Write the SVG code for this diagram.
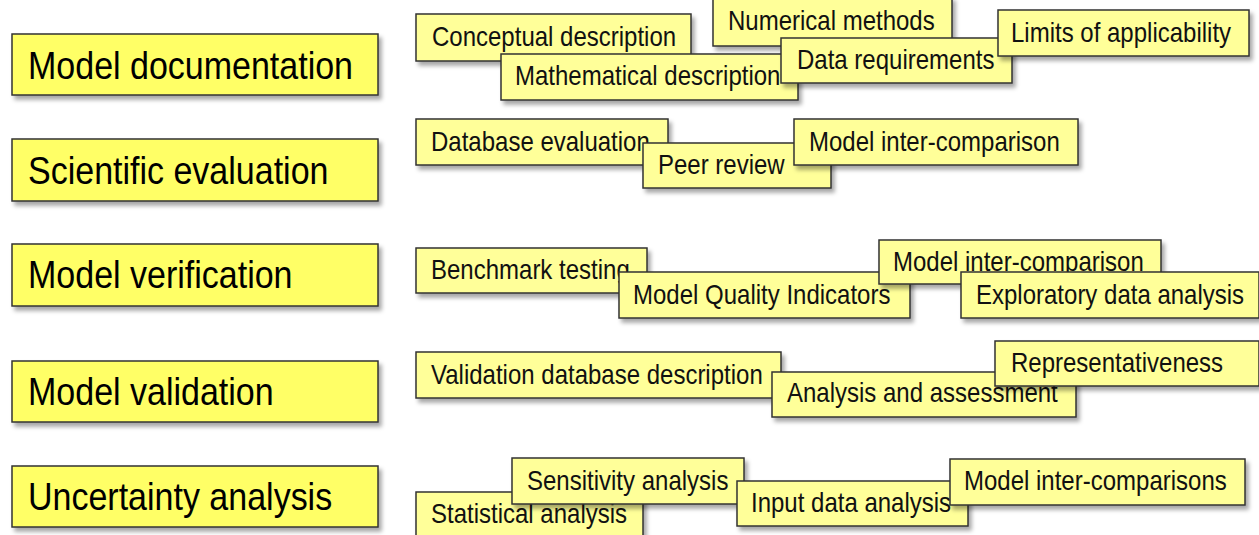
<svg xmlns="http://www.w3.org/2000/svg" width="1259" height="535" viewBox="0 0 1259 535">
<style>
.big{fill:#FFFF66;stroke:#333;stroke-width:1.5;filter:url(#sh)}
.sm{fill:#FFFF99;stroke:#333;stroke-width:1.5;filter:url(#sh)}
.bt{font-family:"Liberation Sans",Arial,sans-serif;font-size:34px;fill:#000}
.st{font-family:"Liberation Sans",Arial,sans-serif;font-size:24px;fill:#111}
</style>
<defs>
<filter id="sh" x="-10%" y="-20%" width="125%" height="150%">
<feDropShadow dx="3" dy="4" stdDeviation="2" flood-color="#000" flood-opacity="0.35"/>
</filter>
</defs>
<rect width="1259" height="535" fill="#fff"/>
<g id="model-documentation"><rect class="big" x="12" y="34" width="366" height="61"/><text class="bt" transform="translate(28,79) scale(1,1.16)">Model documentation</text></g>
<g id="scientific-evaluation"><rect class="big" x="12" y="139" width="366" height="62"/><text class="bt" transform="translate(28,184) scale(1,1.16)">Scientific evaluation</text></g>
<g id="model-verification"><rect class="big" x="12" y="244" width="366" height="62"/><text class="bt" transform="translate(28,288) scale(1,1.16)">Model verification</text></g>
<g id="model-validation"><rect class="big" x="12" y="361" width="366" height="61"/><text class="bt" transform="translate(28,405) scale(1,1.16)">Model validation</text></g>
<g id="uncertainty-analysis"><rect class="big" x="12" y="466" width="366" height="61"/><text class="bt" transform="translate(28,510) scale(1,1.16)">Uncertainty analysis</text></g>

<g id="conceptual-description"><rect class="sm" x="416" y="14" width="275" height="47"/><text class="st" transform="translate(432,46) scale(1,1.15)">Conceptual description</text></g>
<g id="mathematical-description"><rect class="sm" x="501" y="54" width="297" height="46"/><text class="st" transform="translate(515,85) scale(1,1.15)">Mathematical description</text></g>
<g id="numerical-methods"><rect class="sm" x="713" y="-3" width="239" height="49"/><text class="st" transform="translate(728,30) scale(1,1.15)">Numerical methods</text></g>
<g id="data-requirements"><rect class="sm" x="781" y="38" width="231" height="45"/><text class="st" transform="translate(797,69) scale(1,1.15)">Data requirements</text></g>
<g id="limits-of-applicability"><rect class="sm" x="998" y="10" width="251" height="46"/><text class="st" transform="translate(1011,42) scale(1,1.15)">Limits of applicability</text></g>

<g id="database-evaluation"><rect class="sm" x="416" y="119" width="252" height="46"/><text class="st" transform="translate(431,151) scale(1,1.15)">Database evaluation</text></g>
<g id="peer-review"><rect class="sm" x="643" y="143" width="188" height="45"/><text class="st" transform="translate(658,174) scale(1,1.15)">Peer review</text></g>
<g id="model-inter-comparison-1"><rect class="sm" x="794" y="119" width="284" height="46"/><text class="st" transform="translate(809,151) scale(1,1.15)">Model inter-comparison</text></g>

<g id="benchmark-testing"><rect class="sm" x="416" y="248" width="231" height="45"/><text class="st" transform="translate(431,279) scale(1,1.15)">Benchmark testing</text></g>
<g id="model-quality-indicators"><rect class="sm" x="619" y="272" width="291" height="46"/><text class="st" transform="translate(633,304) scale(1,1.15)">Model Quality Indicators</text></g>
<g id="model-inter-comparison-2"><rect class="sm" x="879" y="240" width="282" height="44"/><text class="st" transform="translate(893,271) scale(1,1.15)">Model inter-comparison</text></g>
<g id="exploratory-data-analysis"><rect class="sm" x="961" y="272" width="298" height="46"/><text class="st" transform="translate(976,304) scale(1,1.15)">Exploratory data analysis</text></g>

<g id="validation-database-description"><rect class="sm" x="416" y="352" width="365" height="46"/><text class="st" transform="translate(431,384) scale(1,1.15)">Validation database description</text></g>
<g id="analysis-and-assessment"><rect class="sm" x="772" y="372" width="304" height="45"/><text class="st" transform="translate(787,402) scale(1,1.15)">Analysis and assessment</text></g>
<g id="representativeness"><rect class="sm" x="995" y="341" width="264" height="45"/><text class="st" transform="translate(1011,372) scale(1,1.15)">Representativeness</text></g>

<g id="statistical-analysis"><rect class="sm" x="416" y="492" width="227" height="50"/><text class="st" transform="translate(431,523) scale(1,1.15)">Statistical analysis</text></g>
<g id="sensitivity-analysis"><rect class="sm" x="512" y="458" width="232" height="46"/><text class="st" transform="translate(527,490) scale(1,1.15)">Sensitivity analysis</text></g>
<g id="input-data-analysis"><rect class="sm" x="737" y="481" width="231" height="45"/><text class="st" transform="translate(751,512) scale(1,1.15)">Input data analysis</text></g>
<g id="model-inter-comparisons"><rect class="sm" x="950" y="459" width="295" height="46"/><text class="st" transform="translate(964,490) scale(1,1.15)">Model inter-comparisons</text></g>
<g id="connectors"></g>
</svg>
